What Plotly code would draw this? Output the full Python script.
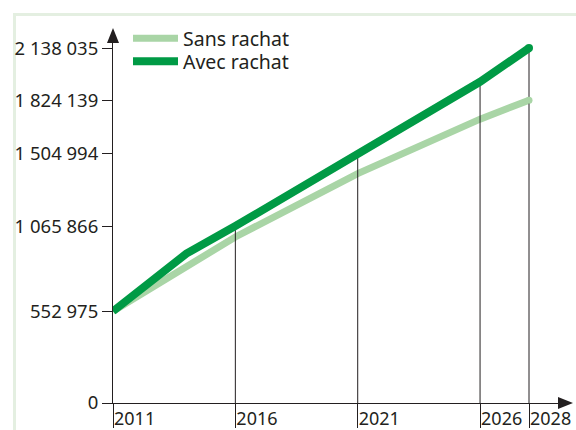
import plotly.graph_objects as go

# ---- data ----
tick_years = [2011, 2016, 2021, 2026, 2028]
sans_years = [2011, 2016, 2021, 2026, 2028]
sans_values = [552975, 1000000, 1382000, 1710000, 1824139]
avec_years = [2011, 2014, 2016, 2021, 2026, 2028]
avec_values = [552975, 900000, 1065866, 1504994, 1935000, 2138035]
y_tick_values = [0, 552975, 1065866, 1504994, 1824139, 2138035]
drop_years = [2016, 2021, 2026, 2028]
series_names = ["Sans rachat", "Avec rachat"]

LIGHT = "#a9d5a6"
DARK = "#009a45"
INK = "#231f20"
FRAME = "#e4efe1"
FONT = "Noto Sans"

W, H = 576, 430
L, R, T, B = 113, 558, 43, 403          # plot area in pixels
px_per_year = (529 - 113) / (2028 - 2011)
px_per_unit = 166e-6
x_range = [2011, 2011 + (R - L) / px_per_year]
y_range = [0, (B - T) / px_per_unit]


def px(x):
    return (x - L) / (R - L)


def py(y):
    return (B - y) / (B - T)


fig = go.Figure()

fig.add_trace(go.Scatter(
    x=sans_years, y=sans_values, mode="lines", name=series_names[0],
    line=dict(color=LIGHT, width=7), hoverinfo="skip", legend="legend"))

avec_lookup = dict(zip(avec_years, avec_values))
for yr in drop_years:
    fig.add_trace(go.Scatter(
        x=[yr, yr], y=[0, avec_lookup[yr]], mode="lines", showlegend=False,
        line=dict(color=INK, width=1), hoverinfo="skip"))

fig.add_trace(go.Scatter(
    x=avec_years, y=avec_values, mode="lines", name=series_names[1],
    line=dict(color=DARK, width=8), hoverinfo="skip", legend="legend2"))

# round end caps
fig.add_trace(go.Scatter(
    x=[sans_years[-1]], y=[sans_values[-1]], mode="markers", showlegend=False,
    marker=dict(color=LIGHT, size=7, line=dict(width=0)), hoverinfo="skip"))
fig.add_trace(go.Scatter(
    x=[avec_years[-1]], y=[avec_values[-1]], mode="markers", showlegend=False,
    marker=dict(color=DARK, size=8, line=dict(width=0)), hoverinfo="skip"))

shapes = [
    # light green frame
    dict(type="line", xref="paper", yref="paper", x0=px(14.5), x1=px(600),
         y0=py(14.5), y1=py(14.5), line=dict(color=FRAME, width=3),
         layer="below"),
    dict(type="line", xref="paper", yref="paper", x0=px(14.5), x1=px(14.5),
         y0=py(13), y1=py(440), line=dict(color=FRAME, width=3),
         layer="below"),
    # axis arrows
    dict(type="path", xref="paper", yref="paper", xsizemode="pixel",
         ysizemode="pixel", xanchor=0, yanchor=1,
         path="M -6 0 L 6 0 L 0 15 Z", fillcolor=INK, line=dict(width=0)),
    dict(type="path", xref="paper", yref="paper", xsizemode="pixel",
         ysizemode="pixel", xanchor=1, yanchor=0,
         path="M 0 -6 L 0 6 L 15 0 Z", fillcolor=INK, line=dict(width=0)),
]

legend_style = dict(xanchor="left", yanchor="top", bgcolor="rgba(0,0,0,0)",
                    itemwidth=45, font=dict(size=19.5, color=INK))

fig.update_layout(
    width=W, height=H,
    margin=dict(l=L, r=W - R, t=T, b=H - B, pad=0, autoexpand=False),
    paper_bgcolor="white", plot_bgcolor="white",
    font=dict(family=FONT, size=19, color=INK),
    showlegend=True,
    legend=dict(x=px(128), y=py(19), **legend_style),
    legend2=dict(x=px(128), y=py(42), **legend_style),
    shapes=shapes,
    xaxis=dict(range=x_range, tickvals=tick_years, ticks="outside",
               ticklen=24, tickwidth=1, tickcolor=INK, showgrid=False,
               zeroline=False, showline=True, linecolor=INK, linewidth=1,
               automargin=False, tickangle=0,
               ticklabelposition="outside right", ticklabelstandoff=-1,
               tickfont=dict(size=18, color=INK, family=FONT)),
    yaxis=dict(range=y_range, tickvals=y_tick_values,
               ticktext=[f"{v:,}".replace(",", " ") for v in y_tick_values],
               ticks="outside", ticklen=10, tickwidth=1, tickcolor=INK,
               showgrid=False, zeroline=False, showline=True,
               linecolor=INK, linewidth=1, automargin=False,
               tickfont=dict(size=18.5, color=INK, family=FONT)),
)

fig.write_html("out.html", config={"displayModeBar": False},
               post_script="document.body.style.margin='0px';")
